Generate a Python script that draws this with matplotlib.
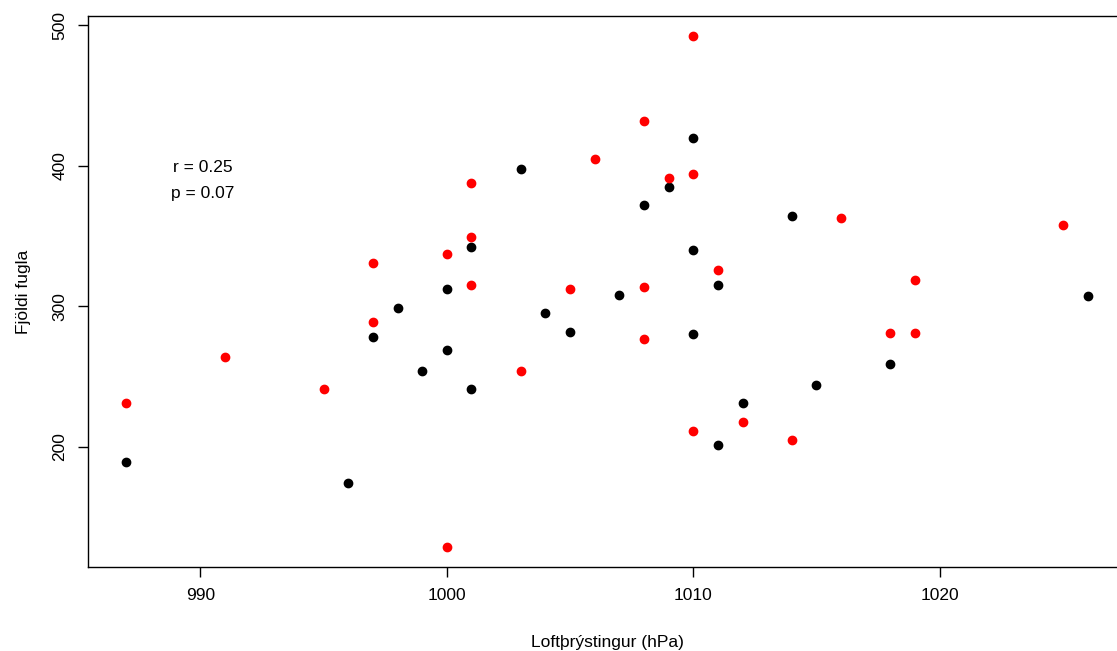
import matplotlib
matplotlib.use("Agg")
import matplotlib.pyplot as plt

plt.rcParams['font.family'] = ['Liberation Sans', 'DejaVu Sans']

# black points
black_x = [987, 996, 997, 998, 999, 1000, 1000, 1001, 1001, 1003, 1004, 1005, 1007,
           1008, 1009, 1010, 1010, 1010, 1011, 1011, 1012, 1014, 1015, 1018, 1026]
black_y = [189, 174, 278, 299, 254, 312, 269, 342, 241, 398, 295, 282, 308,
           372, 385, 420, 340, 280, 315, 201, 231, 364, 244, 259, 307]

# red points
red_x = [987, 991, 995, 997, 997, 1000, 1000, 1001, 1001, 1001, 1003, 1005, 1006, 1008,
         1008, 1008, 1009, 1010, 1010, 1010, 1011, 1012, 1014, 1016, 1018, 1019, 1019, 1025]
red_y = [231, 264, 241, 331, 289, 337, 129, 388, 349, 315, 254, 312, 405, 432,
         314, 277, 391, 492, 394, 211, 326, 218, 205, 363, 281, 319, 281, 358]

xticks = [990, 1000, 1010, 1020]
yticks = [200, 300, 400, 500]

fig = plt.figure(figsize=(11.17, 6.51), dpi=100)
W, H = 1117, 651
ax = fig.add_axes([88 / W, (H - 567) / H, (1126 - 88) / W, (567 - 16) / H])

ax.plot(black_x, black_y, 'o', color='black', ms=6, mec='black', clip_on=False)
ax.plot(red_x, red_y, 'o', color='red', ms=6, mec='red', clip_on=False)

ax.set_xlim(985.44, 1027.56)
ax.set_ylim(114.5, 506.5)
ax.set_xticks(xticks)
ax.set_yticks(yticks)
ax.set_yticklabels([str(v) for v in yticks], rotation=90, va='center')
ax.tick_params(direction='out', length=7, width=1, labelsize=12.5, pad=8)

for s in ax.spines.values():
    s.set_linewidth(1)

ax.set_xlabel("Loftþrýstingur (hPa)", fontsize=12.5, labelpad=23)
ax.set_ylabel("Fjöldi fugla", fontsize=12.5, labelpad=15)

ax.text(990.1, 399, "r = 0.25", ha='center', va='center', fontsize=12.5)
ax.text(990.1, 380, "p = 0.07", ha='center', va='center', fontsize=12.5)

fig.savefig("out.png", dpi=100)
